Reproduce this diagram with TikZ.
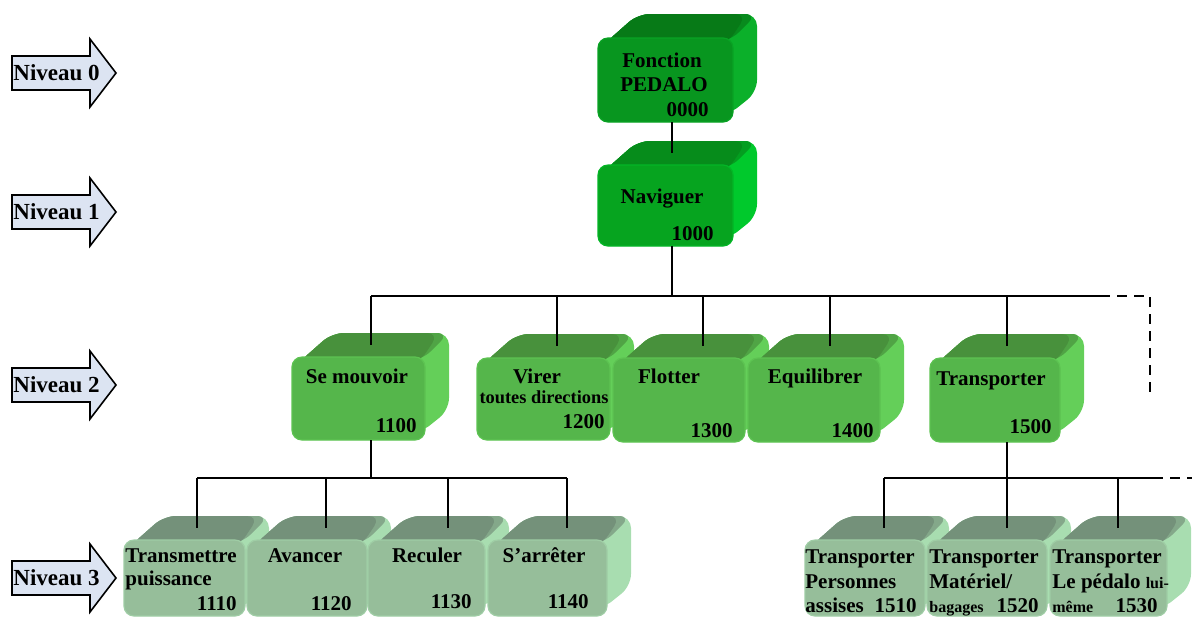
\documentclass[tikz,border=0pt]{standalone}
\usepackage{fontspec}
\setmainfont{Liberation Serif}
\usepackage{tikz}

\definecolor{zeroavant}{HTML}{08961F}
\definecolor{zerodessus}{HTML}{077A17}
\definecolor{zerocote}{HTML}{0BB02A}
\definecolor{unavant}{HTML}{06A41F}
\definecolor{undessus}{HTML}{068C1B}
\definecolor{uncote}{HTML}{00C92C}
\definecolor{deuxavant}{HTML}{55B64B}
\definecolor{deuxdessus}{HTML}{48913C}
\definecolor{deuxcote}{HTML}{64CF59}
\definecolor{troisavant}{HTML}{96BE9A}
\definecolor{troisdessus}{HTML}{74917A}
\definecolor{troiscote}{HTML}{A8DDB0}
\definecolor{fleche}{HTML}{DCE4F2}

\tikzset{
  txt/.style={font=\bfseries\fontsize{10.5}{12}\selectfont, inner sep=0pt},
  petit/.style={font=\bfseries\fontsize{8}{9}\selectfont, inner sep=0pt},
  avant/.style={rectangle, rounded corners=5pt, inner sep=0pt},
  lien/.style={line width=1.25pt},
  pointille/.style={dash pattern=on 5pt off 3.5pt},
  niveau/.style={draw, fill=fleche, line width=0.8pt}
}

% bloc 3D : nom, face avant (x0,y0,x1,y1), niveau, abscisse du lien
\newcommand{\bloc}[7]{%
  \fill[#6cote, rounded corners=6pt] (#2+6,#3+6) -- (#2+40,#3-24) -- (#4+24,#3-24) -- (#4+24,#5-30) -- (#4-6,#5-6) -- cycle;
  \fill[#6dessus!70!#6cote, rounded corners=6pt] (#2+6,#3+6) -- (#2+40,#3-24) -- (#4+24,#3-24) -- (#4-3,#3+3) -- cycle;
  \fill[#6dessus, rounded corners=6pt] (#2+6,#3+6) -- (#2+40,#3-24) -- (#4+14,#3-24) -- (#4-6,#3+6) -- cycle;
  \node[avant, fill=#6avant, draw=#6cote!50!#6avant, line width=0.6pt,
        minimum width={(#4-#2)*0.5pt}, minimum height={(#5-#3)*0.5pt}] (#1) at ({(#2+#4)/2},{(#3+#5)/2}) {};
  \coordinate (#1-haut) at (#7,#3-12);
  \coordinate (#1-bas) at (#7,#5);
}

\begin{document}
\begin{tikzpicture}[x=0.5pt,y=-0.5pt]
\useasboundingbox (0,0) rectangle (1192,617);

% niveaux
\foreach \i/\y in {0/73,1/212,2/385,3/578} {
  \draw[niveau] (12,\y-17) -- (90,\y-17) -- (90,\y-34) -- (116,\y) -- (90,\y+34) -- (90,\y+17) -- (12,\y+17) -- cycle;
  \node[txt, font=\bfseries\fontsize{11.5}{13}\selectfont, anchor=west] (niv\i) at (13,\y) {Niveau \i};
}

% blocs
\bloc{f0}{598}{38}{733}{122}{zero}{672}
\bloc{f1}{598}{165}{733}{246}{un}{672}
\bloc{f2a}{292}{357}{425}{440}{deux}{371}
\bloc{f2b}{477}{358}{610}{440}{deux}{557}
\bloc{f2c}{613}{358}{745}{442}{deux}{703}
\bloc{f2d}{748}{358}{880}{442}{deux}{830}
\bloc{f2e}{930}{358}{1060}{442}{deux}{1007}
\bloc{f3a}{124}{540}{245}{616}{trois}{197}
\bloc{f3b}{247}{540}{367}{616}{trois}{326}
\bloc{f3c}{368}{540}{485}{616}{trois}{448}
\bloc{f3d}{488}{540}{607}{616}{trois}{567}
\bloc{f3e}{805}{540}{925}{616}{trois}{884}
\bloc{f3f}{927}{540}{1047}{616}{trois}{1007}
\bloc{f3g}{1050}{540}{1167}{616}{trois}{1118}

% textes
\node[txt, anchor=base] (t0a) at (662,67) {Fonction};
\node[txt, anchor=base] (t0b) at (664,91) {PEDALO};
\node[txt, anchor=base east] (n0) at (709,116) {0000};
\node[txt, anchor=base] (t1) at (662,203) {Naviguer};
\node[txt, anchor=base east] (n1) at (714,240) {1000};

\node[txt, anchor=base] (t2a) at (357,383) {Se mouvoir};
\node[txt, anchor=base east] (n2a) at (417,432) {1100};
\node[txt, anchor=base] (t2b) at (537,383) {Virer};
\node[txt, font=\bfseries\fontsize{9.2}{11}\selectfont, anchor=base] (t2bb) at (544,403) {toutes directions};
\node[txt, anchor=base east] (n2b) at (605,428) {1200};
\node[txt, anchor=base] (t2c) at (669,383) {Flotter};
\node[txt, anchor=base east] (n2c) at (733,437) {1300};
\node[txt, anchor=base] (t2d) at (815,383) {Equilibrer};
\node[txt, anchor=base east] (n2d) at (874,437) {1400};
\node[txt, anchor=base] (t2e) at (991,385) {Transporter};
\node[txt, anchor=base east] (n2e) at (1052,433) {1500};

\node[txt, anchor=base west] (t3a) at (125,562) {Transmettre};
\node[txt, anchor=base west] (t3aa) at (125,585) {puissance};
\node[txt, anchor=base east] (n3a) at (237,610) {1110};
\node[txt, anchor=base] (t3b) at (305,562) {Avancer};
\node[txt, anchor=base east] (n3b) at (352,610) {1120};
\node[txt, anchor=base] (t3c) at (427,562) {Reculer};
\node[txt, anchor=base east] (n3c) at (472,608) {1130};
\node[txt, anchor=base] (t3d) at (544,562) {S’arrêter};
\node[txt, anchor=base east] (n3d) at (589,608) {1140};

\node[txt, anchor=base west] (t3e) at (805,563) {Transporter};
\node[txt, anchor=base west] (t3ee) at (805,588) {Personnes};
\node[txt, anchor=base west] (t3eee) at (805,612) {assises};
\node[txt, anchor=base east] (n3e) at (917,612) {1510};
\node[txt, anchor=base west] (t3f) at (929,563) {Transporter};
\node[txt, anchor=base west] (t3ff) at (929,588) {Matériel/};
\node[petit, anchor=base west] (t3fff) at (929,612) {bagages};
\node[txt, anchor=base east] (n3f) at (1039,612) {1520};
\node[txt, anchor=base west] (t3g) at (1052,563) {Transporter};
\node[txt, anchor=base west] (t3gg) at (1052,588) {Le pédalo {\fontsize{8}{9}\selectfont lui-}};
\node[petit, anchor=base west] (t3ggg) at (1052,612) {même};
\node[txt, anchor=base east] (n3g) at (1158,612) {1530};

% liens
\coordinate (bus2) at (672,296);
\coordinate (suite2) at (1100,296);
\coordinate (fin2) at (1150,395);
\coordinate (bus3a) at (371,478);
\coordinate (bus3b) at (1007,478);
\coordinate (suite3) at (1153,478);
\coordinate (fin3) at (1192,478);

\draw[lien] (f0-bas) -- (f1-haut);
\draw[lien] (f1-bas) -- (bus2);
\draw[lien] (bus2 -| f2a-haut) -- (suite2);
\draw[lien, pointille] (suite2) -- (suite2 -| fin2) -- (fin2);
\foreach \n in {f2a,f2b,f2c,f2d,f2e}
  \draw[lien] (bus2 -| \n-haut) -- (\n-haut);

\draw[lien] (f2a-bas) -- (bus3a);
\draw[lien] (bus3a -| f3a-haut) -- (bus3a -| f3d-haut);
\foreach \n in {f3a,f3b,f3c,f3d}
  \draw[lien] (bus3a -| \n-haut) -- (\n-haut);

\draw[lien] (f2e-bas) -- (bus3b);
\draw[lien] (bus3b -| f3e-haut) -- (suite3);
\draw[lien, pointille] (suite3) -- (fin3);
\foreach \n in {f3e,f3f,f3g}
  \draw[lien] (bus3b -| \n-haut) -- (\n-haut);
\end{tikzpicture}
\end{document}
